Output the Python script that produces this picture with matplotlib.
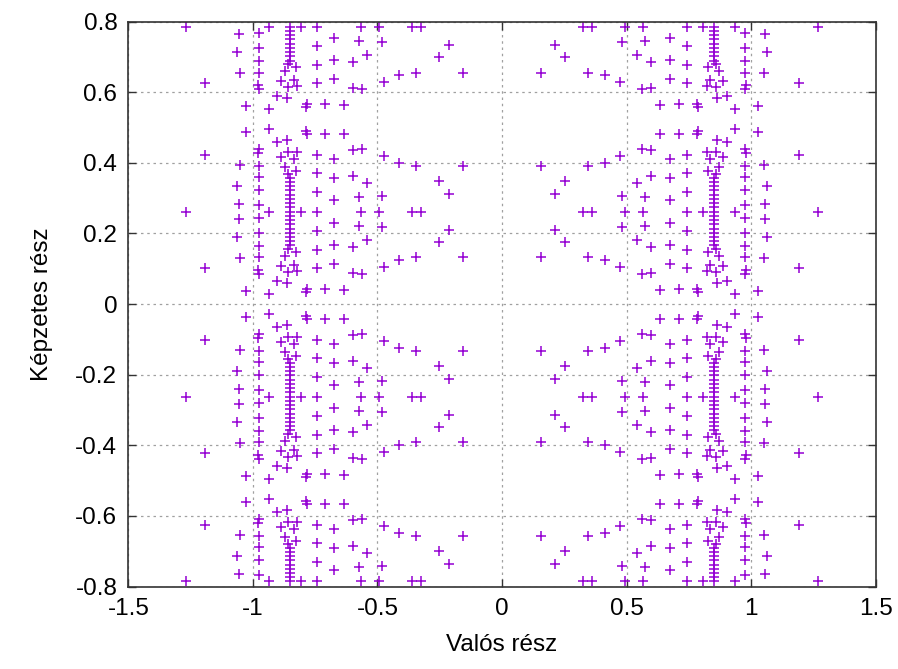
import matplotlib
matplotlib.use("Agg")

import matplotlib.pyplot as plt
import matplotlib.ticker as mticker

plt.rcParams["font.family"] = ["Liberation Sans", "DejaVu Sans"]
plt.rcParams["axes.unicode_minus"] = False

# Roots in the first quadrant (Re > 0, Im > 0).
# The root set is closed under conjugation and negation, so the
# other three quadrants are drawn as mirror images of these.
re_q = [
    0.157, 0.157, 0.157,
    0.213, 0.213, 0.213,
    0.253, 0.253, 0.253,
    0.324, 0.324,
    0.360, 0.360,
    0.344, 0.344, 0.344,
    0.414, 0.414, 0.414,
    0.474, 0.474, 0.474,
    0.481, 0.481, 0.481,
    0.494, 0.494,
    0.543, 0.543, 0.543,
    0.568, 0.568,
    0.573, 0.573, 0.573,
    0.561, 0.561, 0.561,
    0.597, 0.597, 0.597,
    0.597, 0.597, 0.597,
    0.635, 0.635, 0.635,
    0.675, 0.675, 0.675,
    0.675, 0.675, 0.675,
    0.675, 0.675, 0.675,
    0.711, 0.711, 0.711,
    0.744, 0.744,
    0.744, 0.744, 0.744,
    0.744, 0.744, 0.744,
    0.744, 0.744, 0.744,
    0.782, 0.782, 0.782,
    0.788, 0.788, 0.788,
    0.806, 0.806,
    0.825, 0.825, 0.825,
    0.835, 0.835, 0.835,
    0.829, 0.829, 0.829,
    0.859, 0.859, 0.859,
    0.865, 0.865, 0.865,
    0.886, 0.886, 0.886,
    0.873, 0.873, 0.873,
    0.905, 0.905, 0.905,
    0.937, 0.937,
    0.937, 0.937, 0.937,
    0.976, 0.976, 0.976,
    0.980, 0.980, 0.980,
    0.976, 0.976, 0.976,
    0.976, 0.976, 0.976,
    0.976, 0.976, 0.976,
    0.976, 0.976, 0.976,
    1.027, 1.027, 1.027,
    1.052, 1.052, 1.052,
    1.063, 1.063, 1.063,
    1.056, 1.056, 1.056,
    1.193, 1.193, 1.193,
    1.268, 1.268,
    0.853, 0.853,
    0.853, 0.853, 0.853,
    0.853, 0.853, 0.853,
    0.853, 0.853, 0.853,
    0.853, 0.853, 0.853,
    0.853, 0.853, 0.853,
    0.853, 0.853, 0.853,
    0.853, 0.853, 0.853,
    0.853, 0.853, 0.853,
    0.858, 0.858, 0.858,
]
im_q = [
    0.132, 0.392, 0.656,
    0.211, 0.313, 0.735,
    0.175, 0.349, 0.699,
    0.262, 0.785,
    0.262, 0.785,
    0.132, 0.392, 0.656,
    0.125, 0.399, 0.649,
    0.105, 0.419, 0.629,
    0.218, 0.306, 0.742,
    0.262, 0.785,
    0.182, 0.342, 0.706,
    0.262, 0.785,
    0.222, 0.302, 0.746,
    0.085, 0.439, 0.609,
    0.088, 0.436, 0.612,
    0.162, 0.362, 0.686,
    0.041, 0.483, 0.565,
    0.229, 0.295, 0.753,
    0.168, 0.356, 0.692,
    0.114, 0.410, 0.638,
    0.042, 0.482, 0.566,
    0.262, 0.785,
    0.207, 0.317, 0.731,
    0.152, 0.372, 0.676,
    0.101, 0.423, 0.625,
    0.043, 0.481, 0.567,
    0.034, 0.490, 0.558,
    0.262, 0.785,
    0.094, 0.430, 0.618,
    0.112, 0.412, 0.636,
    0.148, 0.376, 0.672,
    0.092, 0.432, 0.616,
    0.060, 0.464, 0.584,
    0.107, 0.417, 0.631,
    0.136, 0.388, 0.660,
    0.066, 0.458, 0.590,
    0.262, 0.785,
    0.028, 0.496, 0.552,
    0.084, 0.440, 0.608,
    0.096, 0.428, 0.620,
    0.132, 0.392, 0.656,
    0.165, 0.359, 0.689,
    0.202, 0.322, 0.726,
    0.243, 0.281, 0.767,
    0.037, 0.487, 0.561,
    0.130, 0.394, 0.654,
    0.189, 0.335, 0.713,
    0.240, 0.284, 0.764,
    0.101, 0.423, 0.625,
    0.262, 0.785,
    0.262, 0.785,
    0.250, 0.274, 0.774,
    0.238, 0.286, 0.762,
    0.226, 0.298, 0.750,
    0.214, 0.310, 0.738,
    0.202, 0.322, 0.726,
    0.190, 0.334, 0.714,
    0.178, 0.346, 0.702,
    0.166, 0.358, 0.690,
    0.155, 0.369, 0.679,
]

x_ticks = [-1.5, -1, -0.5, 0, 0.5, 1, 1.5]
y_ticks = [-0.8, -0.6, -0.4, -0.2, 0, 0.2, 0.4, 0.6, 0.8]

POINT_COLOR = "#9400D3"

fig = plt.figure(figsize=(8.98, 6.69), dpi=100)
ax = fig.add_axes([0.143, 0.1233, 0.832, 0.8443])

for sx in (1, -1):
    for sy in (1, -1):
        ax.plot([sx * v for v in re_q], [sy * v for v in im_q],
                linestyle="none", marker="+", markersize=7.8,
                markeredgewidth=1.1, color=POINT_COLOR)

ax.set_xlim(-1.5, 1.5)
ax.set_ylim(-0.8, 0.8)
ax.set_xticks(x_ticks)
ax.set_yticks(y_ticks)
ax.xaxis.set_major_formatter(mticker.FormatStrFormatter("%g"))
ax.yaxis.set_major_formatter(mticker.FormatStrFormatter("%g"))
ax.tick_params(direction="in", length=6, width=1, labelsize=17.5,
               top=True, right=True, pad=8, colors="#333333",
               labelcolor="black")
ax.grid(True, color="#a0a0a0", linestyle=(0, (2, 3)), linewidth=0.9)
ax.set_axisbelow(True)
for sp in ax.spines.values():
    sp.set_linewidth(1.2)
    sp.set_color("#333333")

ax.set_xlabel("Valós rész", fontsize=17.5, labelpad=10)
ax.set_ylabel("Képzetes rész", fontsize=17.5, labelpad=16)

fig.savefig("out.png", dpi=100)
